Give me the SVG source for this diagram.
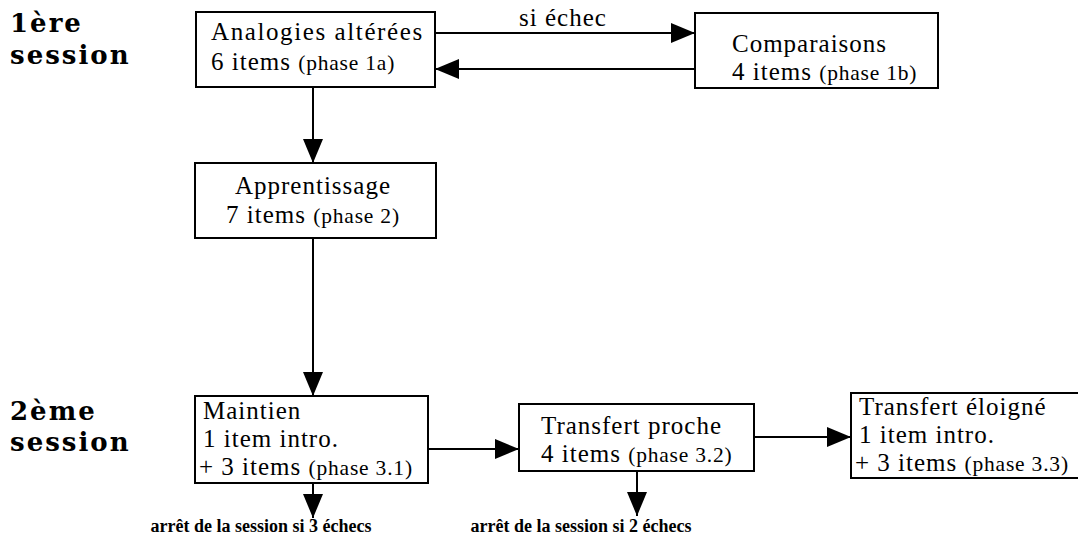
<svg xmlns="http://www.w3.org/2000/svg" width="1078" height="537" viewBox="0 0 1078 537">
<style>
.box{fill:#fff;stroke:#000;stroke-width:2}
.t{font-family:"Liberation Serif","Times New Roman",serif;font-size:25px;letter-spacing:1px;fill:#000}
.s{font-size:21.5px;letter-spacing:0.8px}
.sess{font-family:"DejaVu Serif","Liberation Serif",serif;font-size:26px;font-weight:bold;fill:#000;letter-spacing:2px}
.lab{font-family:"Liberation Serif","Times New Roman",serif;font-size:18px;font-weight:bold;fill:#000}
.c{stroke:#000;stroke-width:2;fill:none;marker-end:url(#ah)}
</style>
<defs>
<marker id="ah" markerWidth="24" markerHeight="20" refX="24" refY="10" orient="auto" markerUnits="userSpaceOnUse">
<path d="M0,0 L24,10 L0,20 z" fill="#000"/>
</marker>
</defs>
<g id="session-labels">
<text class="sess" x="10" y="32">1ère</text>
<text class="sess" x="10" y="64">session</text>
<text class="sess" x="10" y="420">2ème</text>
<text class="sess" x="10" y="451">session</text>
</g>
<g id="connectors">
<line class="c" x1="435" y1="33" x2="695" y2="33"/>
<line class="c" x1="695" y1="69" x2="435" y2="69"/>
<line class="c" x1="313" y1="87" x2="313" y2="163"/>
<line class="c" x1="313" y1="238" x2="313" y2="396"/>
<line class="c" x1="428" y1="449" x2="519" y2="449"/>
<line class="c" x1="754" y1="437" x2="851" y2="437"/>
<line class="c" x1="313" y1="483" x2="313" y2="518"/>
<line class="c" x1="637" y1="471" x2="637" y2="516"/>
<text class="t" x="563" y="26" text-anchor="middle">si échec</text>
<text class="lab" x="261" y="532" text-anchor="middle">arrêt de la session si 3 échecs</text>
<text class="lab" x="581" y="532" text-anchor="middle">arrêt de la session si 2 échecs</text>
</g>
<g id="analogies">
<rect class="box" x="196" y="12" width="239" height="75"/>
<text class="t" x="211" y="40" style="letter-spacing:1.6px">Analogies altérées</text>
<text class="t" x="211" y="70">6 items <tspan class="s">(phase 1a)</tspan></text>
</g>
<g id="comparaisons">
<rect class="box" x="695" y="13" width="243" height="75"/>
<text class="t" x="732" y="52">Comparaisons</text>
<text class="t" x="732" y="80">4 items <tspan class="s">(phase 1b)</tspan></text>
</g>
<g id="apprentissage">
<rect class="box" x="195" y="163" width="241" height="75"/>
<text class="t" x="313" y="194" text-anchor="middle">Apprentissage</text>
<text class="t" x="313" y="223" text-anchor="middle">7 items <tspan class="s">(phase 2)</tspan></text>
</g>
<g id="maintien">
<rect class="box" x="195" y="396" width="233" height="87"/>
<text class="t" x="203" y="419">Maintien</text>
<text class="t" x="203" y="447">1 item intro.</text>
<text class="t" x="199" y="475">+ 3 items <tspan class="s">(phase 3.1)</tspan></text>
</g>
<g id="transfert-proche">
<rect class="box" x="519" y="404" width="235" height="67"/>
<text class="t" x="541" y="434">Transfert proche</text>
<text class="t" x="541" y="462">4 items <tspan class="s">(phase 3.2)</tspan></text>
</g>
<g id="transfert-eloigne">
<rect class="box" x="851" y="393" width="235" height="85"/>
<text class="t" x="859" y="415">Transfert éloigné</text>
<text class="t" x="859" y="443">1 item intro.</text>
<text class="t" x="855" y="471">+ 3 items <tspan class="s">(phase 3.3)</tspan></text>
</g>
</svg>
